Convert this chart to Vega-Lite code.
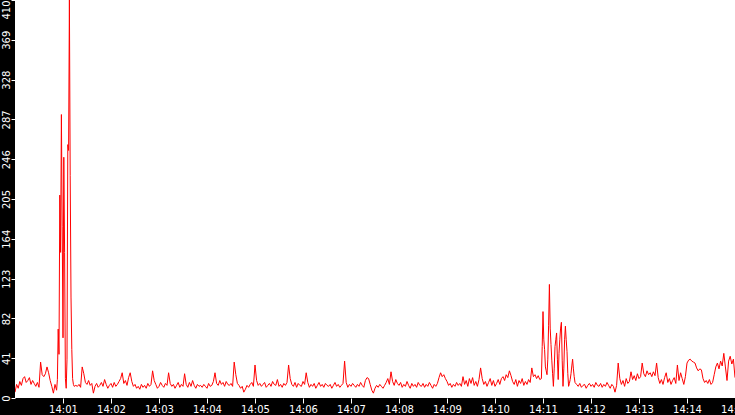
{
  "$schema": "https://vega.github.io/schema/vega-lite/v6.json",
  "width": 720,
  "height": 398,
  "autosize": {"type": "none"},
  "padding": {"left": 15, "top": 0, "right": 0, "bottom": 17},
  "background": "#000000",
  "config": {"view": {"fill": "#ffffff", "stroke": null}},
  "data": {
    "values": [
      {"s":0,"v":6},{"s":2,"v":14},{"s":4,"v":10},{"s":6,"v":17},{"s":8,"v":13},{"s":10,"v":20},{"s":12,"v":22},{"s":14,"v":16},{"s":16,"v":18},{"s":18,"v":21},
      {"s":20,"v":14},{"s":22,"v":18},{"s":24,"v":15},{"s":26,"v":12},{"s":28,"v":16},{"s":30,"v":11},{"s":32,"v":37},{"s":34,"v":24},{"s":36,"v":22},{"s":38,"v":25},
      {"s":40,"v":32},{"s":42,"v":26},{"s":44,"v":18},{"s":46,"v":12},{"s":48,"v":5},{"s":50,"v":14},{"s":52,"v":8},{"s":53,"v":19},{"s":54,"v":71},{"s":55,"v":45},
      {"s":56,"v":209},{"s":57,"v":150},{"s":58,"v":292},{"s":59,"v":177},{"s":60,"v":62},{"s":61,"v":248},{"s":62,"v":150},{"s":63,"v":20},{"s":64,"v":10},{"s":65,"v":40},
      {"s":66,"v":261},{"s":67,"v":255},{"s":68,"v":410},{"s":69,"v":229},{"s":70,"v":104},{"s":71,"v":50},{"s":72,"v":20},{"s":73,"v":14},{"s":74,"v":12},
      {"s":76,"v":13},{"s":78,"v":12},{"s":80,"v":14},{"s":82,"v":11},{"s":84,"v":32},{"s":86,"v":25},{"s":88,"v":16},{"s":90,"v":14},{"s":92,"v":18},{"s":94,"v":13},{"s":96,"v":15},{"s":98,"v":5},{"s":100,"v":12},
      {"s":102,"v":15},{"s":104,"v":11},{"s":106,"v":13},{"s":108,"v":16},{"s":110,"v":12},{"s":112,"v":19},{"s":114,"v":14},{"s":116,"v":10},{"s":118,"v":13},{"s":120,"v":15},
      {"s":122,"v":11},{"s":124,"v":16},{"s":126,"v":12},{"s":128,"v":14},{"s":130,"v":17},{"s":132,"v":20},{"s":134,"v":26},{"s":136,"v":15},{"s":138,"v":18},{"s":140,"v":13},
      {"s":142,"v":21},{"s":144,"v":26},{"s":146,"v":17},{"s":148,"v":12},{"s":150,"v":14},{"s":152,"v":10},{"s":154,"v":12},{"s":156,"v":9},{"s":158,"v":14},{"s":160,"v":11},
      {"s":162,"v":13},{"s":164,"v":10},{"s":166,"v":15},{"s":168,"v":12},{"s":170,"v":14},{"s":172,"v":28},{"s":174,"v":18},{"s":176,"v":14},{"s":178,"v":10},{"s":180,"v":12},
      {"s":182,"v":16},{"s":184,"v":13},{"s":186,"v":11},{"s":188,"v":15},{"s":190,"v":13},{"s":192,"v":26},{"s":194,"v":15},{"s":196,"v":12},{"s":198,"v":14},{"s":200,"v":10},
      {"s":202,"v":13},{"s":204,"v":16},{"s":206,"v":11},{"s":208,"v":14},{"s":210,"v":12},{"s":212,"v":25},{"s":214,"v":14},{"s":216,"v":11},{"s":218,"v":16},{"s":220,"v":12},
      {"s":222,"v":18},{"s":224,"v":13},{"s":226,"v":10},{"s":228,"v":14},{"s":230,"v":12},{"s":232,"v":13},{"s":234,"v":11},{"s":236,"v":14},{"s":238,"v":12},{"s":240,"v":10},
      {"s":242,"v":15},{"s":244,"v":12},{"s":246,"v":13},{"s":248,"v":17},{"s":250,"v":26},{"s":252,"v":15},{"s":254,"v":13},{"s":256,"v":18},{"s":258,"v":14},{"s":260,"v":16},
      {"s":262,"v":12},{"s":264,"v":17},{"s":266,"v":14},{"s":268,"v":13},{"s":270,"v":15},{"s":272,"v":12},{"s":274,"v":37},{"s":276,"v":24},{"s":278,"v":15},{"s":280,"v":13},
      {"s":282,"v":10},{"s":284,"v":12},{"s":286,"v":6},{"s":288,"v":9},{"s":290,"v":13},{"s":292,"v":11},{"s":294,"v":14},{"s":296,"v":16},{"s":298,"v":12},{"s":300,"v":34},
      {"s":302,"v":18},{"s":304,"v":13},{"s":306,"v":15},{"s":308,"v":12},{"s":310,"v":14},{"s":312,"v":16},{"s":314,"v":11},{"s":316,"v":13},{"s":318,"v":15},{"s":320,"v":12},
      {"s":322,"v":17},{"s":324,"v":14},{"s":326,"v":13},{"s":328,"v":19},{"s":330,"v":12},{"s":332,"v":14},{"s":334,"v":11},{"s":336,"v":15},{"s":338,"v":13},{"s":340,"v":16},
      {"s":342,"v":34},{"s":344,"v":20},{"s":346,"v":14},{"s":348,"v":12},{"s":350,"v":16},{"s":352,"v":11},{"s":354,"v":15},{"s":356,"v":13},{"s":358,"v":12},{"s":360,"v":17},
      {"s":362,"v":14},{"s":364,"v":26},{"s":366,"v":16},{"s":368,"v":11},{"s":370,"v":14},{"s":372,"v":12},{"s":374,"v":15},{"s":376,"v":10},{"s":378,"v":13},{"s":380,"v":16},
      {"s":382,"v":12},{"s":384,"v":14},{"s":386,"v":11},{"s":388,"v":15},{"s":390,"v":13},{"s":392,"v":12},{"s":394,"v":14},{"s":396,"v":10},{"s":398,"v":13},{"s":400,"v":16},
      {"s":402,"v":12},{"s":404,"v":14},{"s":406,"v":11},{"s":408,"v":13},{"s":410,"v":15},{"s":412,"v":38},{"s":414,"v":16},{"s":416,"v":11},{"s":418,"v":14},{"s":420,"v":12},
      {"s":422,"v":15},{"s":424,"v":13},{"s":426,"v":11},{"s":428,"v":14},{"s":430,"v":12},{"s":432,"v":16},{"s":434,"v":13},{"s":436,"v":11},{"s":438,"v":18},{"s":440,"v":21},
      {"s":442,"v":20},{"s":444,"v":14},{"s":446,"v":8},{"s":448,"v":5},{"s":450,"v":10},{"s":452,"v":13},{"s":454,"v":11},{"s":456,"v":14},{"s":458,"v":12},{"s":460,"v":10},
      {"s":462,"v":13},{"s":464,"v":16},{"s":466,"v":20},{"s":468,"v":14},{"s":470,"v":27},{"s":472,"v":17},{"s":474,"v":13},{"s":476,"v":19},{"s":478,"v":15},{"s":480,"v":13},
      {"s":482,"v":16},{"s":484,"v":11},{"s":486,"v":14},{"s":488,"v":12},{"s":490,"v":17},{"s":492,"v":13},{"s":494,"v":10},{"s":496,"v":15},{"s":498,"v":12},{"s":500,"v":14},
      {"s":502,"v":11},{"s":504,"v":16},{"s":506,"v":13},{"s":508,"v":12},{"s":510,"v":15},{"s":512,"v":11},{"s":514,"v":14},{"s":516,"v":12},{"s":518,"v":16},{"s":520,"v":13},
      {"s":522,"v":10},{"s":524,"v":14},{"s":526,"v":12},{"s":528,"v":15},{"s":530,"v":21},{"s":532,"v":26},{"s":534,"v":22},{"s":536,"v":24},{"s":538,"v":20},{"s":540,"v":17},
      {"s":542,"v":13},{"s":544,"v":15},{"s":546,"v":11},{"s":548,"v":14},{"s":550,"v":12},{"s":552,"v":16},{"s":554,"v":13},{"s":556,"v":15},{"s":558,"v":12},{"s":560,"v":22},
      {"s":562,"v":14},{"s":564,"v":18},{"s":566,"v":12},{"s":568,"v":20},{"s":570,"v":15},{"s":572,"v":21},{"s":574,"v":13},{"s":576,"v":17},{"s":578,"v":12},{"s":580,"v":19},
      {"s":582,"v":31},{"s":584,"v":20},{"s":586,"v":14},{"s":588,"v":17},{"s":590,"v":12},{"s":592,"v":16},{"s":594,"v":20},{"s":596,"v":13},{"s":598,"v":18},{"s":600,"v":12},
      {"s":602,"v":15},{"s":604,"v":19},{"s":606,"v":14},{"s":608,"v":20},{"s":610,"v":22},{"s":612,"v":18},{"s":614,"v":24},{"s":616,"v":21},{"s":618,"v":28},{"s":620,"v":23},
      {"s":622,"v":17},{"s":624,"v":14},{"s":626,"v":19},{"s":628,"v":12},{"s":630,"v":18},{"s":632,"v":15},{"s":634,"v":20},{"s":636,"v":13},{"s":638,"v":17},{"s":640,"v":14},
      {"s":642,"v":19},{"s":644,"v":16},{"s":646,"v":31},{"s":648,"v":22},{"s":650,"v":24},{"s":652,"v":20},{"s":654,"v":23},{"s":656,"v":19},
      {"s":658,"v":20},{"s":659,"v":53},{"s":660,"v":89},{"s":661,"v":60},{"s":662,"v":50},{"s":663,"v":32},{"s":664,"v":28},{"s":665,"v":24},{"s":666,"v":40},{"s":667,"v":75},
      {"s":668,"v":117},{"s":669,"v":72},{"s":670,"v":55},{"s":671,"v":39},{"s":672,"v":25},{"s":673,"v":12},{"s":674,"v":30},{"s":675,"v":53},{"s":676,"v":60},{"s":677,"v":67},
      {"s":678,"v":40},{"s":679,"v":19},{"s":680,"v":46},{"s":681,"v":60},{"s":682,"v":72},{"s":683,"v":78},{"s":684,"v":39},{"s":685,"v":12},{"s":686,"v":30},{"s":687,"v":60},
      {"s":688,"v":74},{"s":689,"v":60},{"s":690,"v":48},{"s":691,"v":25},{"s":692,"v":12},{"s":693,"v":15},{"s":694,"v":19},{"s":695,"v":25},{"s":696,"v":33},{"s":697,"v":40},
      {"s":698,"v":30},{"s":699,"v":22},{"s":700,"v":16},
      {"s":702,"v":14},{"s":704,"v":12},{"s":706,"v":15},{"s":708,"v":11},{"s":710,"v":13},{"s":712,"v":14},{"s":714,"v":10},{"s":716,"v":13},{"s":718,"v":15},{"s":720,"v":12},
      {"s":722,"v":14},{"s":724,"v":11},{"s":726,"v":16},{"s":728,"v":13},{"s":730,"v":12},{"s":732,"v":15},{"s":734,"v":11},{"s":736,"v":14},{"s":738,"v":12},{"s":740,"v":16},
      {"s":742,"v":13},{"s":744,"v":10},{"s":746,"v":14},{"s":748,"v":12},{"s":750,"v":6},{"s":752,"v":13},{"s":754,"v":36},{"s":756,"v":20},{"s":758,"v":14},{"s":760,"v":18},
      {"s":762,"v":12},{"s":764,"v":20},{"s":766,"v":15},{"s":768,"v":17},{"s":770,"v":27},{"s":772,"v":19},{"s":774,"v":23},{"s":776,"v":18},{"s":778,"v":25},{"s":780,"v":20},
      {"s":782,"v":22},{"s":784,"v":36},{"s":786,"v":25},{"s":788,"v":22},{"s":790,"v":28},{"s":792,"v":24},{"s":794,"v":26},{"s":796,"v":22},{"s":798,"v":27},{"s":800,"v":23},
      {"s":802,"v":36},{"s":804,"v":21},{"s":806,"v":15},{"s":808,"v":19},{"s":810,"v":14},{"s":812,"v":21},{"s":814,"v":26},{"s":816,"v":16},{"s":818,"v":20},{"s":820,"v":14},
      {"s":822,"v":18},{"s":824,"v":21},{"s":826,"v":15},{"s":828,"v":34},{"s":830,"v":18},{"s":832,"v":26},{"s":834,"v":20},{"s":836,"v":14},{"s":838,"v":22},{"s":840,"v":36},
      {"s":842,"v":39},{"s":844,"v":40},{"s":846,"v":38},{"s":848,"v":37},{"s":850,"v":36},{"s":852,"v":31},{"s":854,"v":28},{"s":856,"v":30},{"s":858,"v":29},{"s":860,"v":20},
      {"s":862,"v":16},{"s":864,"v":18},{"s":866,"v":15},{"s":868,"v":19},{"s":870,"v":14},{"s":872,"v":16},{"s":874,"v":24},{"s":876,"v":32},{"s":878,"v":36},{"s":880,"v":30},
      {"s":882,"v":38},{"s":884,"v":33},{"s":886,"v":46},{"s":888,"v":32},{"s":890,"v":18},{"s":892,"v":38},{"s":894,"v":43},{"s":896,"v":35},{"s":898,"v":40},{"s":900,"v":21}
    ]
  },
  "mark": {"type": "line", "color": "#ff0000", "strokeWidth": 1, "clip": true},
  "encoding": {
    "x": {
      "field": "s",
      "type": "quantitative",
      "scale": {"domain": [0, 900], "nice": false, "zero": false},
      "axis": {
        "values": [60, 120, 180, 240, 300, 360, 420, 480, 540, 600, 660, 720, 780, 840, 900],
        "labelExpr": "'14:' + (datum.value < 600 ? '0' : '') + (datum.value / 60)",
        "title": null,
        "domain": false,
        "grid": false,
        "tickColor": "#ffffff",
        "tickSize": 5,
        "labelColor": "#ffffff",
        "labelFont": "DejaVu Sans",
        "labelFontSize": 10,
        "labelPadding": 1,
        "labelOverlap": false,
        "labelBound": false,
        "labelFlush": false
      }
    },
    "y": {
      "field": "v",
      "type": "quantitative",
      "scale": {"domain": [0, 410], "nice": false},
      "axis": {
        "values": [0, 41, 82, 123, 164, 205, 246, 287, 328, 369, 410],
        "title": null,
        "domain": false,
        "grid": false,
        "tickColor": "#ffffff",
        "tickSize": 4,
        "labelColor": "#ffffff",
        "labelAngle": 270,
        "labelAlign": {"condition": {"test": "datum.value == 410", "value": "right"}, "value": "center"},
        "labelBaseline": "bottom",
        "labelPadding": 0,
        "labelFont": "DejaVu Sans",
        "labelFontSize": 10,
        "labelFlush": false,
        "labelOverlap": false
      }
    }
  }
}
